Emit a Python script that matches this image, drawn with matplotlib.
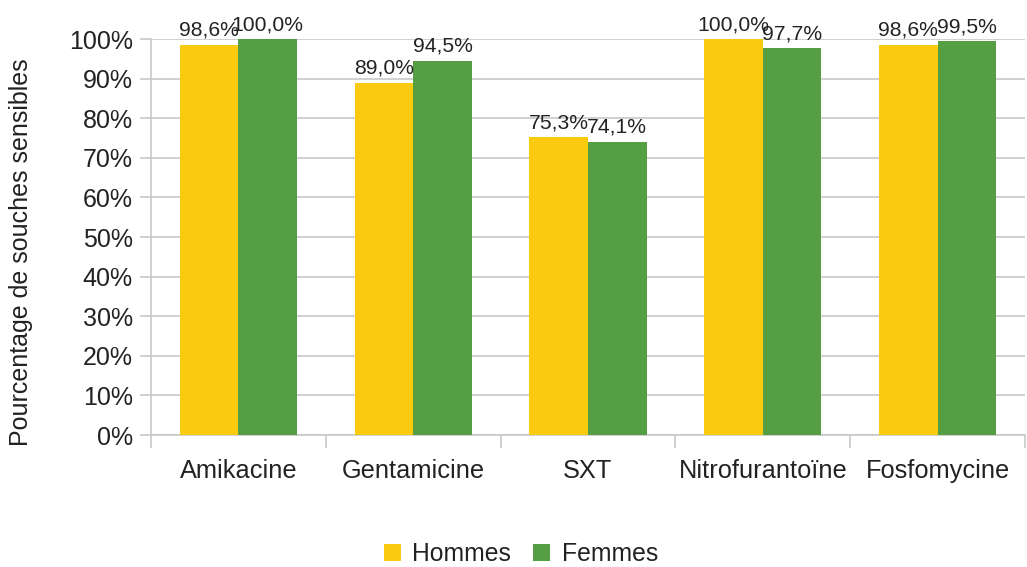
import matplotlib
matplotlib.use("Agg")
import matplotlib.pyplot as plt
import numpy as np
from matplotlib.ticker import FuncFormatter

plt.rcParams['font.family'] = ['Liberation Sans', 'DejaVu Sans']

categories = ["Amikacine", "Gentamicine", "SXT", "Nitrofurantoïne", "Fosfomycine"]
hommes = [98.6, 89.0, 75.3, 100.0, 98.6]
femmes = [100.0, 94.5, 74.1, 97.7, 99.5]
series_names = ["Hommes", "Femmes"]
yticks = list(range(0, 101, 10))
ylabel = "Pourcentage de souches sensibles"

c_h = "#FACA0F"
c_f = "#559E44"
grid_c = "#C8C8C8"
txt_c = "#222222"

fig = plt.figure(figsize=(10.27, 5.67), dpi=100)
ax = fig.add_axes([0.147, 0.2328, 0.851, 0.6983])

x = np.arange(len(categories))
w = 0.335
b1 = ax.bar(x - w/2, hommes, w, color=c_h, label=series_names[0], zorder=3)
b2 = ax.bar(x + w/2, femmes, w, color=c_f, label=series_names[1], zorder=3)

def fmt(v):
    return f"{v:.1f}%".replace(".", ",")

for bars, vals in ((b1, hommes), (b2, femmes)):
    for r, v in zip(bars, vals):
        ax.annotate(fmt(v), (r.get_x() + r.get_width()/2, v), xytext=(0, 3.5),
                    textcoords="offset points", ha="center", va="bottom",
                    fontsize=15.2, color=txt_c, annotation_clip=False, zorder=4)

ax.set_xlim(-0.5, len(categories) - 0.5)
ax.set_ylim(0, 100)
ax.set_yticks(yticks)
ax.yaxis.set_major_formatter(FuncFormatter(lambda v, p: f"{int(v)}%"))
ax.grid(axis="y", color=grid_c, linewidth=1.2, zorder=0)
ax.set_axisbelow(True)

# category boundary ticks
ax.set_xticks(np.arange(-0.5, len(categories), 1.0))
ax.set_xticklabels([])
ax.set_xticks(x, minor=True)
ax.set_xticklabels(categories, minor=True, fontsize=18.3, color=txt_c)
ax.tick_params(axis="x", which="major", length=9, color=grid_c, width=1.2)
ax.tick_params(axis="x", which="minor", length=0, pad=17)
ax.tick_params(axis="y", length=8, color=grid_c, width=1.2, labelsize=18,
               labelcolor=txt_c, pad=5)

for s in ["top", "right"]:
    ax.spines[s].set_visible(False)
for s in ["left", "bottom"]:
    ax.spines[s].set_color(grid_c)
    ax.spines[s].set_linewidth(1.2)

ax.set_ylabel(ylabel, fontsize=18, color=txt_c)
ax.yaxis.set_label_coords(-0.135, 0.462)

leg = fig.legend(handles=[b1, b2], labels=series_names, loc="center",
                 bbox_to_anchor=(0.507, 0.023), ncol=2, frameon=False,
                 fontsize=17.8, handlelength=0.7, handleheight=0.7,
                 handletextpad=0.45, columnspacing=0.9)
for t in leg.get_texts():
    t.set_color(txt_c)

fig.savefig("out.png", dpi=100)
